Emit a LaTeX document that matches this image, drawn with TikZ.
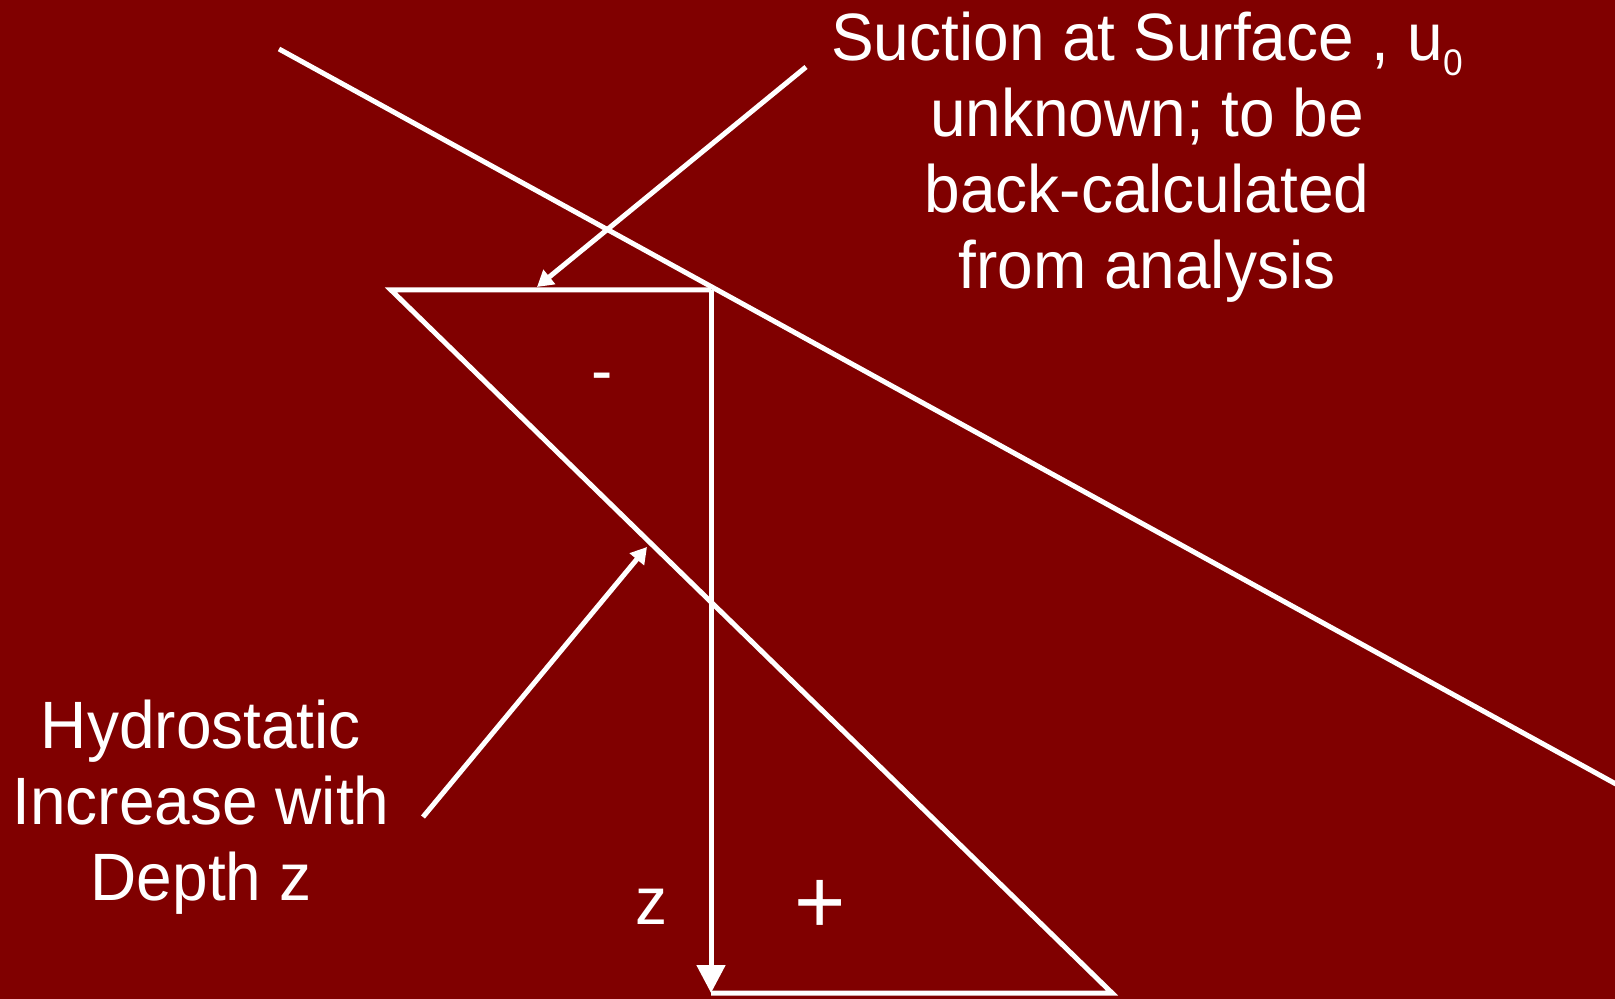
\documentclass[tikz,border=0pt]{standalone}
\usepackage{fontspec}
\setmainfont{Liberation Sans}[FakeStretch=0.955]
\usetikzlibrary{arrows.meta}
\definecolor{bg}{HTML}{800000}
\tikzset{
  ln/.style={draw=white, line width=2.5pt},
  arr/.style={ln, -{Triangle[width=9pt,length=8pt]}},
  zarr/.style={ln, -{Triangle[width=14pt,length=14pt]}},
  lbl/.style={text=white, font=\fontsize{33.5}{38}\selectfont, align=center, inner sep=0pt}}

\begin{document}
\begin{tikzpicture}[x=0.5pt, y=-0.5pt]
\useasboundingbox (0,0) rectangle (1615,999);
\clip (0,0) rectangle (1615,999);
\fill[bg] (0,0) rectangle (1615,999);
\coordinate (tl) at (391,290);
\coordinate (tr) at (711,290);
\coordinate (br) at (1112,993);
\coordinate (bl) at (711,993);
\coordinate (ga) at (279,49);
\coordinate (gb) at (1645,800);
\coordinate (sa) at (806,67);
\coordinate (sb) at (537,287);
\coordinate (ha) at (423,817);
\coordinate (hb) at (647,547);
% pressure profile
\draw[ln, miter limit=10] (tr) -- (tl) -- (br) -- (bl);
\draw[zarr] (tr) -- (bl);
\draw[ln] (ga) -- (gb);
% labels
\node[lbl] (sfc) at (1147,157) {Suction at Surface , u\raisebox{-7.5pt}{\fontsize{18.5}{18.5}\selectfont 0}\\unknown; to be\\back-calculated\\from analysis};
\node[lbl] (hyd) at (201,807) {Hydrostatic\\Increase with\\Depth z};
\node[lbl] (neg) at (602,383) {-};
\node[lbl, font=\fontsize{46}{46}\selectfont] (pos) at (820,907) {+};
\node[lbl] (zz) at (651,907) {z};
\draw[arr] (sa) -- (sb);
\draw[arr] (ha) -- (hb);
\end{tikzpicture}
\end{document}
